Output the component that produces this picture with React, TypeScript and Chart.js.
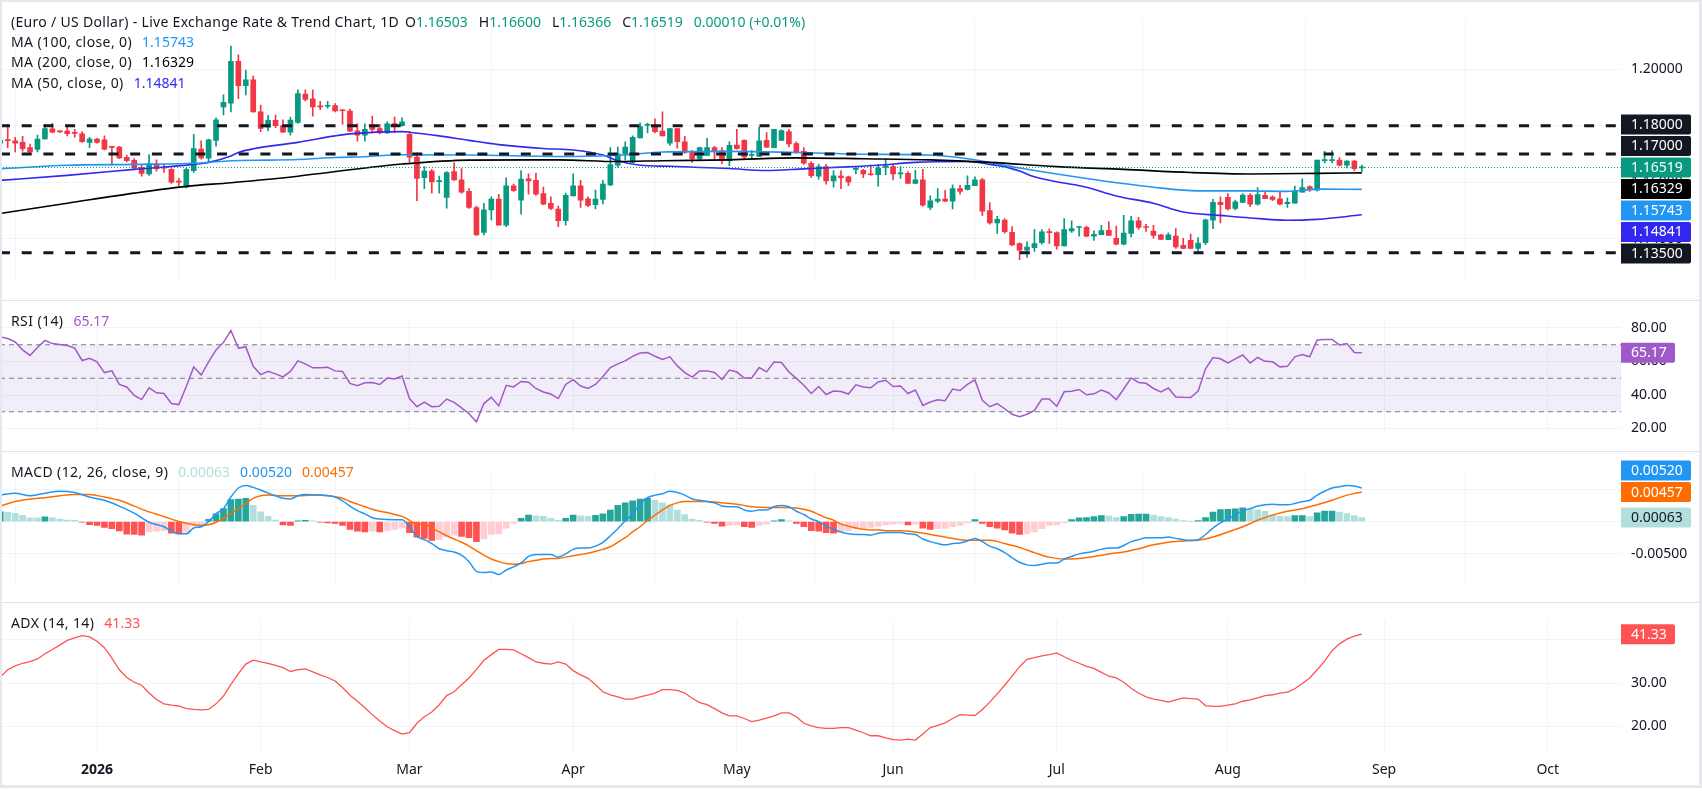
import React, { useEffect, useRef } from 'react';
import { Chart, registerables } from 'chart.js';
Chart.register(...registerables);

// ---------------- data (bar index 0 = 1 Jan 2026, daily bars) ----------------
const FIRST_BAR = -13;
const monthTicks = [0, 22, 42, 64, 86, 107, 129, 152, 173, 195];
const monthLabels = ['2026', 'Feb', 'Mar', 'Apr', 'May', 'Jun', 'Jul', 'Aug', 'Sep', 'Oct'];

const opens = [
  1.1738,1.1751,1.1746,1.1741,1.1722,1.1716,1.1753,1.1789,1.1780,1.1781,1.1776,1.1771,1.1741,
  1.1753,1.1750,1.1725,1.1724,1.1688,1.1677,1.1652,1.1629,1.1664,1.1651,
  1.1645,1.1602,1.1582,1.1641,1.1717,1.1685,1.1748,1.1867,1.1880,1.2028,
  1.1942,1.1963,1.1849,1.1795,1.1819,1.1800,1.1777,1.1812,1.1912,1.1895,
  1.1869,1.1869,1.1871,1.1855,1.1852,1.1782,1.1766,1.1798,1.1790,1.1774,
  1.1806,1.1800,1.1769,1.1689,1.1616,1.1639,1.1602,1.1546,1.1637,1.1608,
  1.1567,1.1510,1.1422,1.1501,1.1540,1.1447,1.1587,1.1536,1.1612,1.1606,
  1.1559,1.1525,1.1504,1.1463,1.1551,1.1587,1.1541,1.1520,1.1539,1.1590,
  1.1660,1.1700,1.1670,1.1757,1.1801,1.1799,1.1781,1.1738,1.1790,1.1743,
  1.1707,1.1683,1.1695,1.1722,1.1712,1.1676,1.1731,1.1748,1.1695,1.1691,
  1.1748,1.1722,1.1748,1.1779,1.1737,1.1709,1.1667,1.1621,1.1655,1.1604,
  1.1621,1.1619,1.1645,1.1642,1.1628,1.1626,1.1652,1.1655,1.1629,1.1631,
  1.1595,1.1608,1.1510,1.1532,1.1540,1.1532,1.1577,1.1574,1.1587,1.1608,
  1.1499,1.1455,1.1465,1.1422,1.1382,1.1359,1.1368,1.1385,1.1423,1.1421,
  1.1374,1.1427,1.1439,1.1440,1.1408,1.1414,1.1429,1.1401,1.1380,1.1418,
  1.1463,1.1441,1.1426,1.1413,1.1396,1.1409,1.1376,1.1394,1.1365,1.1385,
  1.1465,1.1528,1.1546,1.1507,1.1528,1.1553,1.1522,1.1553,1.1547,1.1541,
  1.1524,1.1525,1.1564,1.1584,1.1571,1.1676,1.1676,1.1678,1.1660,1.1675,
  1.16503,
];
const highs = [
  1.1753,1.1805,1.1759,1.1762,1.1735,1.1767,1.1805,1.1808,1.1782,1.1800,1.1787,1.1779,1.1759,
  1.1755,1.1764,1.1727,1.1727,1.1696,1.1683,1.1660,1.1698,1.1679,1.1663,
  1.1648,1.1613,1.1650,1.1769,1.1746,1.1753,1.1828,1.1909,1.2082,1.2051,
  1.1997,1.1976,1.1873,1.1837,1.1838,1.1821,1.1831,1.1927,1.1927,1.1927,
  1.1886,1.1886,1.1878,1.1857,1.1859,1.1807,1.1807,1.1834,1.1805,1.1814,
  1.1831,1.1828,1.1779,1.1704,1.1655,1.1645,1.1621,1.1637,1.1668,1.1648,
  1.1577,1.1515,1.1525,1.1548,1.1557,1.1615,1.1593,1.1641,1.1629,1.1632,
  1.1582,1.1548,1.1515,1.1561,1.1629,1.1606,1.1548,1.1572,1.1606,1.1722,
  1.1724,1.1743,1.1764,1.1810,1.1809,1.1824,1.1849,1.1792,1.1790,1.1762,
  1.1712,1.1724,1.1755,1.1727,1.1722,1.1743,1.1787,1.1750,1.1712,1.1795,
  1.1776,1.1787,1.1785,1.1787,1.1743,1.1722,1.1673,1.1663,1.1663,1.1641,
  1.1641,1.1621,1.1653,1.1645,1.1660,1.1663,1.1683,1.1662,1.1655,1.1637,
  1.1642,1.1645,1.1551,1.1577,1.1571,1.1590,1.1589,1.1622,1.1619,1.1613,
  1.1527,1.1479,1.1471,1.1442,1.1385,1.1388,1.1432,1.1432,1.1434,1.1424,
  1.1471,1.1463,1.1442,1.1444,1.1427,1.1447,1.1460,1.1444,1.1482,1.1479,
  1.1475,1.1450,1.1447,1.1415,1.1420,1.1435,1.1401,1.1416,1.1403,1.1469,
  1.1539,1.1548,1.1559,1.1536,1.1559,1.1559,1.1581,1.1567,1.1551,1.1567,
  1.1544,1.1586,1.1612,1.1587,1.1678,1.1709,1.1712,1.1687,1.1676,1.1677,
  1.16600,
];
const lows = [
  1.1735,1.1722,1.1707,1.1710,1.1702,1.1707,1.1752,1.1774,1.1776,1.1764,1.1759,1.1741,1.1722,
  1.1738,1.1714,1.1660,1.1683,1.1672,1.1645,1.1621,1.1624,1.1639,1.1634,
  1.1595,1.1587,1.1579,1.1634,1.1681,1.1670,1.1727,1.1838,1.1849,1.1896,
  1.1909,1.1848,1.1779,1.1782,1.1793,1.1776,1.1766,1.1808,1.1888,1.1834,
  1.1857,1.1862,1.1849,1.1805,1.1779,1.1745,1.1745,1.1774,1.1771,1.1773,
  1.1776,1.1798,1.1672,1.1534,1.1577,1.1561,1.1561,1.1508,1.1606,1.1561,
  1.1507,1.1411,1.1413,1.1466,1.1447,1.1442,1.1567,1.1486,1.1557,1.1553,
  1.1520,1.1502,1.1442,1.1447,1.1551,1.1510,1.1513,1.1505,1.1523,1.1587,
  1.1653,1.1679,1.1667,1.1757,1.1774,1.1774,1.1764,1.1730,1.1720,1.1702,
  1.1670,1.1676,1.1694,1.1681,1.1665,1.1658,1.1717,1.1683,1.1681,1.1691,
  1.1722,1.1722,1.1747,1.1725,1.1702,1.1663,1.1616,1.1610,1.1593,1.1582,
  1.1577,1.1587,1.1629,1.1616,1.1624,1.1586,1.1626,1.1608,1.1613,1.1595,
  1.1595,1.1515,1.1502,1.1527,1.1531,1.1505,1.1557,1.1572,1.1587,1.1481,
  1.1451,1.1418,1.1419,1.1375,1.1325,1.1333,1.1354,1.1380,1.1383,1.1362,
  1.1374,1.1422,1.1408,1.1406,1.1393,1.1414,1.1411,1.1377,1.1377,1.1406,
  1.1432,1.1425,1.1401,1.1396,1.1396,1.1365,1.1364,1.1364,1.1349,1.1378,
  1.1435,1.1455,1.1501,1.1501,1.1527,1.1513,1.1518,1.1541,1.1534,1.1519,
  1.1510,1.1525,1.1564,1.1567,1.1569,1.1668,1.1668,1.1657,1.1650,1.1641,
  1.16366,
];
const closes = [
  1.1748,1.1747,1.1738,1.1719,1.1707,1.1753,1.1790,1.1777,1.1778,1.1772,1.1773,1.1743,1.1753,
  1.1741,1.1717,1.1723,1.1686,1.1676,1.1650,1.1631,1.1665,1.1648,1.1649,
  1.1600,1.1600,1.1645,1.1719,1.1686,1.1750,1.1821,1.1883,1.2028,1.1942,
  1.1963,1.1849,1.1790,1.1819,1.1800,1.1777,1.1820,1.1914,1.1893,1.1867,
  1.1867,1.1871,1.1852,1.1853,1.1781,1.1766,1.1787,1.1787,1.1774,1.1807,
  1.1804,1.1814,1.1688,1.1613,1.1639,1.1601,1.1604,1.1634,1.1608,1.1564,
  1.1510,1.1413,1.1502,1.1540,1.1447,1.1587,1.1570,1.1611,1.1604,1.1557,
  1.1522,1.1507,1.1463,1.1553,1.1587,1.1536,1.1517,1.1540,1.1593,1.1662,
  1.1700,1.1724,1.1759,1.1797,1.1803,1.1779,1.1764,1.1790,1.1743,1.1705,
  1.1683,1.1722,1.1722,1.1710,1.1676,1.1730,1.1719,1.1689,1.1697,1.1746,
  1.1724,1.1787,1.1783,1.1735,1.1707,1.1667,1.1623,1.1655,1.1604,1.1622,
  1.1616,1.1601,1.1647,1.1629,1.1626,1.1650,1.1658,1.1629,1.1631,1.1595,
  1.1608,1.1518,1.1534,1.1540,1.1532,1.1577,1.1567,1.1589,1.1608,1.1497,
  1.1455,1.1468,1.1424,1.1377,1.1359,1.1370,1.1382,1.1424,1.1421,1.1374,
  1.1432,1.1435,1.1441,1.1408,1.1415,1.1428,1.1411,1.1380,1.1419,1.1463,
  1.1439,1.1439,1.1411,1.1397,1.1413,1.1370,1.1365,1.1365,1.1384,1.1466,
  1.1528,1.1520,1.1505,1.1530,1.1554,1.1522,1.1556,1.1541,1.1539,1.1522,
  1.1528,1.1569,1.1581,1.1572,1.1678,1.1678,1.1678,1.1660,1.1675,1.1648,
  1.16519,
];

const ma50X = [-13,-4,5,13,15,18,19,21,27,32,34,41,42,46,50,54,60,64,68,70,73,77,81,85,90,95,100,105,110,117,120,122,124,126,129,133,137,142,146,151,155,160,164,170];
const ma50Y = [1.1606,1.1624,1.1645,1.1663,1.1670,1.1693,1.1705,1.1718,1.1741,1.1764,1.1771,1.1779,1.1777,1.1764,1.1748,1.1733,1.1719,1.1714,1.1696,1.1676,1.1660,1.1656,1.1652,1.1648,1.1641,1.1647,1.1653,1.1660,1.1670,1.1673,1.1663,1.1655,1.1639,1.1619,1.1601,1.1582,1.1551,1.1525,1.1494,1.1482,1.1473,1.1465,1.1468,1.14841];
const ma100X = [-13,-4,5,14,18,23,27,32,36,41,50,64,71,76,85,94,103,112,117,124,133,142,148,155,160,164,170];
const ma100Y = [1.1647,1.1660,1.1663,1.1668,1.1676,1.1678,1.1680,1.1687,1.1690,1.1697,1.1696,1.1691,1.1696,1.1707,1.1709,1.1705,1.1699,1.1696,1.1683,1.1650,1.1613,1.1582,1.1569,1.1569,1.1567,1.1575,1.15743];
const ma200X = [-13,-4,5,12,18,27,36,41,50,62,70,76,85,94,103,112,120,129,138,147,155,164,170];
const ma200Y = [1.1489,1.1525,1.1561,1.1585,1.1598,1.1621,1.1650,1.1664,1.1678,1.1679,1.1673,1.1676,1.1679,1.1686,1.1683,1.1679,1.1670,1.1655,1.1645,1.1634,1.1629,1.1631,1.16329];

const priceLevels = [1.18, 1.17, 1.135];

const rsi = [
  74.7,73.7,71.7,66.9,63.6,68.4,72.6,70.7,70.2,69.5,68.0,60.6,61.9,
  59.8,53.4,54.4,46.3,44.8,39.8,37.3,44.3,41.3,40.9,
  34.9,34.3,45.1,56.8,51.9,59.8,66.9,71.4,78.5,68.0,
  68.7,57.1,52.2,54.1,52.6,50.8,54.1,60.4,58.6,56.2,
  56.2,56.5,54.4,54.1,46.9,45.5,47.3,47.5,46.3,50.1,
  49.6,51.4,37.9,33.0,35.8,33.0,33.3,37.6,35.6,32.3,
  28.8,24.0,34.9,38.6,33.5,45.8,44.8,48.1,47.6,43.9,
  41.8,40.6,37.9,46.3,49.2,45.4,43.9,46.3,51.1,56.4,
  58.6,60.4,63.1,65.1,65.3,63.1,61.2,62.8,57.4,53.4,
  50.7,54.4,54.4,53.4,49.3,54.9,53.7,50.1,50.2,56.4,
  53.8,59.7,59.4,53.7,49.9,45.8,40.9,45.1,40.3,42.4,
  42.1,40.6,46.1,44.8,44.3,47.8,48.8,45.1,45.4,40.9,
  43.0,33.8,35.8,37.2,36.6,43.6,42.7,46.3,49.0,36.8,
  33.0,34.9,31.8,28.5,27.0,28.5,30.8,37.6,37.6,33.3,
  41.9,42.2,43.3,40.1,40.7,43.0,41.2,37.3,43.6,50.2,
  47.5,47.0,43.9,41.8,44.2,38.8,38.6,38.5,42.4,55.6,
  62.4,61.6,59.1,61.6,63.9,59.1,62.4,60.1,59.8,56.8,
  57.1,62.8,64.2,62.8,72.9,73.2,73.2,69.9,70.7,65.4,
  65.17,
];
const rsiLevels = [70, 50, 30];

const macdHist = [
  0.00153,0.00145,0.00129,0.00096,0.0006,0.00058,0.00072,0.0006,0.0004,0.00024,0.0002,-0.0001,-0.00048,
  -0.0006,-0.00092,-0.00109,-0.00145,-0.00193,-0.002,-0.0021,-0.0016,-0.0015,-0.0014,
  -0.0018,-0.0019,-0.0016,-0.0007,-0.0006,0.00036,0.0012,0.002,0.0034,0.0035,
  0.0036,0.0025,0.0015,0.0008,0.00024,-0.0005,-0.0006,0.0001,0.0002,0.00012,
  -0.0001,-0.0002,-0.0003,-0.0006,-0.0012,-0.0015,-0.0016,-0.0015,-0.0016,-0.0014,
  -0.0012,-0.001,-0.0017,-0.0024,-0.0026,-0.0029,-0.0028,-0.0023,-0.0021,-0.0023,
  -0.0025,-0.0031,-0.0027,-0.002,-0.0019,-0.001,-0.0003,0.0005,0.001,0.0009,
  0.0008,0.0005,0.0002,0.0005,0.001,0.0009,0.0008,0.00095,0.0012,0.0018,
  0.0025,0.0029,0.0032,0.0035,0.0036,0.0033,0.0029,0.0026,0.0018,0.0011,
  0.0004,0.0002,-0.0001,-0.0003,-0.0007,-0.0006,-0.0005,-0.0008,-0.0009,-0.0006,
  -0.0004,0.0001,0.0003,0.0001,-0.0003,-0.0008,-0.0014,-0.0015,-0.0017,-0.0018,
  -0.0017,-0.0014,-0.0011,-0.001,-0.0009,-0.0007,-0.0005,-0.0004,-0.0003,-0.0005,
  -0.0004,-0.001,-0.0012,-0.0011,-0.001,-0.0008,-0.0006,-0.0002,0.0003,-0.0003,
  -0.0008,-0.001,-0.0013,-0.0018,-0.002,-0.0019,-0.0016,-0.0011,-0.0006,-0.0005,
  -0.0002,0.0003,0.00058,0.00062,0.00076,0.00092,0.0009,0.00064,0.00076,0.00114,
  0.00116,0.00118,0.001,0.00076,0.00064,0.0004,0.00016,0.00004,0.00016,0.00064,
  0.00149,0.00185,0.00188,0.00197,0.00213,0.00185,0.00183,0.00157,0.00105,0.0008,
  0.00079,0.00092,0.00093,0.00076,0.00137,0.00161,0.00162,0.00149,0.00125,0.00092,
  0.00063,
];

// MACD line: sampled bars up to 43, then every bar from 44
const macdEarlyX = [-13,-11,-9,-7,-5,-3,-1,1,3,5,7,9,11,12,13,14,15,16,17,18,19,20,21,22,23,24,25,26,27,28,30,32,33,34,35,36,37,38,40,41,42,43];
const macdEarlyY = [0.0041,0.0044,0.0040,0.0044,0.0047,0.0045,0.0038,0.0033,0.0024,0.0013,-0.0001,-0.0008,-0.0019,-0.0019,-0.0010,-0.0008,0.0000,0.0012,0.0020,0.0038,0.0052,0.0056,0.0053,0.0049,0.0044,0.0040,0.0036,0.0035,0.0040,0.0042,0.0041,0.0038,0.0032,0.0024,0.0017,0.0012,0.0006,0.0004,0.0003,0.0003,-0.0008,-0.0023];
const macdFrom44 = [
  -0.0028,-0.0034,-0.0042,-0.0045,-0.0047,-0.0052,-0.0062,-0.0077,-0.0079,-0.0078,
  -0.0082,-0.0075,-0.0070,-0.0064,-0.0054,-0.0051,-0.0051,-0.0051,-0.0055,-0.0050,
  -0.0043,-0.0041,-0.0041,-0.0038,-0.0032,-0.0022,-0.0011,0.0001,0.0012,0.0027,
  0.0037,0.0041,0.0043,0.0047,0.0045,0.0041,0.0035,0.0033,0.0031,0.0029,
  0.0024,0.0023,0.0023,0.0018,0.0016,0.0018,0.0018,0.0023,0.0025,0.0023,
  0.0016,0.0011,0.0004,0.0000,-0.0007,-0.0012,-0.0016,-0.0019,-0.0020,-0.0020,
  -0.0021,-0.0018,-0.0017,-0.0017,
  -0.0017,-0.0019,-0.0020,-0.0027,-0.0031,-0.0034,-0.0036,-0.0034,-0.0033,-0.0030,
  -0.0026,-0.0031,-0.0038,-0.0042,-0.0048,-0.0056,-0.0063,-0.0067,-0.0068,-0.0066,
  -0.0064,-0.0064,-0.0058,-0.0054,-0.0050,-0.0048,-0.0046,-0.0043,-0.0041,-0.0041,
  -0.0037,-0.0031,-0.0028,-0.0025,-0.0025,-0.0025,-0.0024,-0.0026,-0.0028,-0.0029,
  -0.0028,-0.0020,-0.0010,-0.0002,0.0004,0.0010,0.0017,0.0020,0.0024,0.0026,
  0.0027,0.0026,0.0026,0.0028,0.0031,0.0033,0.0041,0.0047,0.0052,0.0054,
  0.0056,0.0055,0.0052,
];
const signalX = [
  -13,-11,-9,-7,-5,-3,-1,1,3,5,7,9,11,13,14,15,16,17,18,19,20,21,22,23,25,27,29,31,33,34,35,36,37,38,39,40,41,42,43,
  44,45,46,47,48,49,50,51,52,53,54,55,56,57,58,59,60,61,62,63,64,65,66,67,68,69,70,71,72,73,74,75,76,77,78,79,80,
  82,84,86,88,90,92,94,
  95,96,97,98,99,100,101,102,103,104,105,106,107,
  108,110,112,114,116,118,120,122,124,126,128,130,132,134,136,138,140,142,144,146,148,150,152,154,156,158,160,162,164,166,168,170,
];
const signalY = [
  0.0024,0.0031,0.0035,0.0037,0.0040,0.0042,0.0042,0.0038,0.0033,0.0024,0.0015,0.0008,0.0000,
  -0.0005,-0.0006,-0.0005,-0.0001,0.0005,0.0013,0.0020,0.0028,0.0036,0.0040,0.0041,
  0.0040,0.0040,0.0041,0.0040,0.0036,
  0.0031,0.0027,0.0023,0.0019,0.0016,0.0014,0.0011,0.0008,0.0002,-0.0004,
  -0.0004,-0.0010,-0.0016,-0.0022,-0.0027,-0.0032,-0.0038,-0.0045,-0.0052,-0.0058,
  -0.0062,-0.0065,-0.0066,-0.0065,-0.0062,-0.0060,-0.0058,-0.0057,-0.0057,-0.0055,
  -0.0053,-0.0051,-0.0049,-0.0046,-0.0043,-0.0039,-0.0032,-0.0025,-0.0016,-0.0008,
  0.0002,0.0010,0.0018,0.0025,0.0029,0.0031,0.0031,
  0.0031,0.0029,0.0027,0.0023,0.0022,0.0022,0.0021,
  0.0019,0.0016,0.0011,0.0006,0.0002,-0.0004,-0.0007,-0.0010,-0.0012,-0.0013,-0.0013,-0.0014,-0.0014,
  -0.0014,-0.0016,-0.0020,-0.0024,-0.0028,-0.0029,-0.0029,-0.0034,-0.0040,-0.0048,-0.0055,-0.0058,-0.0057,-0.0054,-0.0050,-0.0047,
  -0.0042,-0.0036,-0.0032,-0.0030,-0.0029,-0.0024,-0.0016,-0.0008,0.0002,0.0010,0.0016,0.0020,0.0026,0.0033,0.0041,0.00457,
];

const adx = [
  31.4,33.1,34.0,34.6,35.0,35.6,36.8,37.8,38.8,39.9,40.5,41.0,40.7,
  39.7,38.2,35.8,33.1,31.3,30.2,29.5,27.7,26.2,25.2,
  24.9,24.7,24.1,23.9,23.8,23.9,25.2,27.0,29.7,32.2,
  34.4,35.3,34.9,34.6,34.1,33.6,32.7,33.1,33.3,32.6,
  31.9,31.3,30.5,29.0,27.2,25.8,24.3,22.7,21.2,19.9,
  19.0,18.2,18.5,20.7,22.2,23.3,25.0,27.1,28.0,29.6,
  31.2,33.2,35.3,36.6,37.8,37.8,37.7,36.8,35.9,34.9,
  34.6,34.4,34.9,34.4,32.9,31.9,31.1,29.6,28.0,27.3,
  26.8,26.3,26.3,26.8,27.2,27.7,28.5,28.5,28.3,27.7,
  26.5,25.5,25.0,24.1,23.1,22.4,22.4,21.8,21.1,21.4,
  21.9,22.4,23.1,23.1,22.2,20.7,20.1,19.7,19.5,19.5,
  19.7,19.7,19.1,18.5,17.8,17.8,17.3,16.9,16.8,17.0,
  16.8,18.2,19.7,20.2,20.8,21.8,22.7,22.6,22.5,23.9,
  25.6,27.5,29.5,31.6,33.8,35.5,35.9,36.3,36.6,37.0,
  36.1,35.3,34.6,33.9,33.4,32.5,31.6,31.2,30.2,28.8,
  27.7,26.8,26.3,26.0,25.6,26.1,26.6,26.4,26.3,24.8,
  24.6,24.6,24.9,25.2,25.8,26.1,26.6,27.1,27.3,27.7,
  27.9,28.7,29.9,31.2,33.1,35.1,37.5,39.1,40.2,40.9,
  41.33,
];

const headerTitle = '(Euro / US Dollar) - Live Exchange Rate & Trend Chart, 1D';
const headerChange = '0.00010 (+0.01%)';

// ---------------- styling ----------------
const FONT = "'Noto Sans', sans-serif";
const TEXT = '#131722';
const GRID = '#f0f3fa';
const UP = '#089981';
const DOWN = '#f23645';
const MA50_C = '#3328f0';
const MA100_C = '#2196f3';
const MA200_C = '#000000';
const RSI_C = '#a05ac8';
const MACD_C = '#2196f3';
const SIG_C = '#ff6d00';
const ADX_C = '#ff5252';
const W = 1702;
const AXIS_W = 81;
const X_MIN = -13.038;
const X_MAX = 204.84;
const BADGE_H = 20;
const BADGE_STEP = 21.5;

const last = (a: number[]) => a[a.length - 1];
const zip = (xs: number[], ys: number[]) => xs.slice(0, Math.min(xs.length, ys.length)).map((x, k) => ({ x, y: ys[k] }));
const barX = (n: number) => Array.from({ length: n }, (_, k) => FIRST_BAR + k);

function xScale(showLabels: boolean) {
  return {
    type: 'linear', min: X_MIN, max: X_MAX, offset: false,
    afterBuildTicks: (s: any) => { s.ticks = monthTicks.map((v) => ({ value: v })); },
    afterFit: (s: any) => { s.height = showLabels ? 35 : 0; },
    grid: { color: GRID, drawTicks: false, lineWidth: 1 },
    border: { display: false },
    ticks: {
      display: showLabels, autoSkip: false, maxRotation: 0, minRotation: 0, padding: 10, color: TEXT,
      font: (c: any) => ({ family: FONT, size: 14, weight: c.index === 0 ? 'bold' : 'normal' }),
      callback: (_v: any, i: number) => monthLabels[i],
    },
  };
}

function yScale(min: number, max: number, ticks: number[], digits: number) {
  return {
    position: 'right', min, max,
    afterFit: (s: any) => { s.width = AXIS_W; },
    afterBuildTicks: (s: any) => { s.ticks = ticks.map((v) => ({ value: v })); },
    grid: { color: GRID, drawTicks: false },
    border: { display: false },
    ticks: {
      autoSkip: false, padding: 10, color: TEXT, font: { family: FONT, size: 14 },
      callback: (v: any) => Number(v).toFixed(digits),
    },
  };
}

type Badge = { value: number; text: string; bg: string; fg: string; w: number; anchor?: boolean };

function badgePlugin(items: Badge[]) {
  return {
    id: 'badges',
    afterDraw(chart: any) {
      const { ctx, chartArea } = chart;
      const ys = chart.scales.y;
      const list = items.map((b) => ({ ...b, py: ys.getPixelForValue(b.value) })).sort((a, b) => a.py - b.py);
      let ai = list.findIndex((b) => b.anchor);
      if (ai < 0) ai = list.length - 1;
      for (let k = ai - 1; k >= 0; k--) list[k].py = Math.min(list[k].py, list[k + 1].py - BADGE_STEP);
      for (let k = ai + 1; k < list.length; k++) list[k].py = Math.max(list[k].py, list[k - 1].py + BADGE_STEP);
      ctx.save();
      ctx.font = `14px ${FONT}`;
      ctx.textBaseline = 'middle';
      ctx.textAlign = 'left';
      for (const b of list) {
        ctx.fillStyle = b.bg;
        ctx.beginPath();
        ctx.roundRect(chartArea.right, b.py - BADGE_H / 2, b.w, BADGE_H, [0, 2, 2, 0]);
        ctx.fill();
        ctx.fillStyle = b.fg;
        ctx.fillText(b.text, chartArea.right + 10, b.py + 0.5);
      }
      ctx.restore();
    },
  };
}

const baseOptions = (x: any, y: any) => ({
  responsive: false,
  animation: false,
  events: [],
  layout: { padding: 0, autoPadding: false },
  plugins: { legend: { display: false }, tooltip: { enabled: false }, title: { display: false } },
  scales: { x, y },
});

const hline = (v: number, color: string, width: number, dash: number[], order: number, extra: any = {}) => ({
  type: 'line',
  data: [{ x: X_MIN, y: v }, { x: X_MAX, y: v }],
  borderColor: color, borderWidth: width, borderDash: dash, pointRadius: 0, order, ...extra,
});

const smoothLine = (data: any[], color: string, width: number, order: number) => ({
  type: 'line', data, borderColor: color, borderWidth: width, pointRadius: 0,
  cubicInterpolationMode: 'monotone', order,
});

function mainConfig() {
  const xs = barX(closes.length);
  const cols = closes.map((c, k) => (c >= opens[k] ? UP : DOWN));
  const datasets: any[] = [
    ...priceLevels.map((lv) => hline(lv, TEXT, 3, [10, 11.7], 0)),
    hline(last(closes), UP, 1, [1, 2], 0),
    smoothLine(zip(ma200X, ma200Y), MA200_C, 1.6, 1),
    smoothLine(zip(ma100X, ma100Y), MA100_C, 1.6, 1),
    smoothLine(zip(ma50X, ma50Y), MA50_C, 1.6, 1),
    {
      type: 'bar', data: xs.map((x, k) => ({ x, y: [opens[k], closes[k]] })),
      backgroundColor: cols, barThickness: 5, grouped: false, minBarLength: 1, borderWidth: 0, order: 2,
    },
    {
      type: 'bar', data: xs.map((x, k) => ({ x, y: [lows[k], highs[k]] })),
      backgroundColor: cols, barThickness: 1, grouped: false, borderWidth: 0, order: 3,
    },
  ];
  const badges: Badge[] = [
    ...priceLevels.map((lv) => ({ value: lv, text: lv.toFixed(5), bg: TEXT, fg: '#ffffff', w: 70 })),
    { value: last(closes), text: last(closes).toFixed(5), bg: UP, fg: '#ffffff', w: 70, anchor: true },
    { value: last(ma200Y), text: last(ma200Y).toFixed(5), bg: MA200_C, fg: '#ffffff', w: 70 },
    { value: last(ma100Y), text: last(ma100Y).toFixed(5), bg: MA100_C, fg: '#ffffff', w: 70 },
    { value: last(ma50Y), text: last(ma50Y).toFixed(5), bg: MA50_C, fg: '#ffffff', w: 70 },
  ];
  return {
    type: 'bar',
    data: { datasets },
    options: baseOptions(xScale(false), yScale(1.12473, 1.21804, [1.14, 1.16, 1.18, 1.2], 5)),
    plugins: [badgePlugin(badges)],
  };
}

function rsiConfig() {
  const xs = barX(rsi.length);
  const datasets: any[] = [
    { type: 'line', data: xs.map((x, k) => ({ x, y: rsi[k] })), borderColor: RSI_C, borderWidth: 1.5, pointRadius: 0, tension: 0, order: 0 },
    hline(rsiLevels[0], '#787b86', 1, [5, 4], 1, { fill: { value: rsiLevels[2] }, backgroundColor: 'rgba(126,87,194,0.1)' }),
    hline(rsiLevels[1], '#787b86', 1, [5, 4], 1),
    hline(rsiLevels[2], '#787b86', 1, [5, 4], 1),
  ];
  return {
    type: 'line',
    data: { datasets },
    options: baseOptions(xScale(false), yScale(17.56, 85.73, [20, 40, 60, 80], 2)),
    plugins: [badgePlugin([{ value: last(rsi), text: last(rsi).toFixed(2), bg: RSI_C, fg: '#ffffff', w: 54 }])],
  };
}

function macdConfig() {
  const xs = barX(macdHist.length);
  const histCols = macdHist.map((h, k) => {
    const prev = k === 0 ? -Infinity : macdHist[k - 1];
    if (h >= 0) return h > prev ? '#26a69a' : '#b2dfdb';
    return h > prev ? '#ffcdd2' : '#ff5252';
  });
  const macdPts = [...zip(macdEarlyX, macdEarlyY), ...macdFrom44.map((y, k) => ({ x: 44 + k, y }))];
  const datasets: any[] = [
    { type: 'line', data: macdPts, borderColor: MACD_C, borderWidth: 1.5, pointRadius: 0, cubicInterpolationMode: 'monotone', order: 0 },
    smoothLine(zip(signalX, signalY), SIG_C, 1.5, 1),
    { type: 'bar', data: xs.map((x, k) => ({ x, y: macdHist[k] })), backgroundColor: histCols, barThickness: 6, grouped: false, borderWidth: 0, order: 2 },
  ];
  const badges: Badge[] = [
    { value: last(macdFrom44), text: last(macdFrom44).toFixed(5), bg: MACD_C, fg: '#ffffff', w: 70 },
    { value: last(signalY), text: last(signalY).toFixed(5), bg: SIG_C, fg: '#ffffff', w: 70, anchor: true },
    { value: last(macdHist), text: last(macdHist).toFixed(5), bg: '#b2dfdb', fg: TEXT, w: 70 },
  ];
  return {
    type: 'bar',
    data: { datasets },
    options: baseOptions(xScale(false), yScale(-0.0096, 0.00808, [-0.005, 0, 0.005], 5)),
    plugins: [badgePlugin(badges)],
  };
}

function adxConfig() {
  const xs = barX(adx.length);
  const datasets: any[] = [
    { type: 'line', data: xs.map((x, k) => ({ x, y: adx[k] })), borderColor: ADX_C, borderWidth: 1.3, pointRadius: 0, tension: 0, order: 0 },
  ];
  return {
    type: 'line',
    data: { datasets },
    options: baseOptions(xScale(true), yScale(14.04, 44.53, [20, 30, 40], 2)),
    plugins: [badgePlugin([{ value: last(adx), text: last(adx).toFixed(2), bg: ADX_C, fg: '#ffffff', w: 54 }])],
  };
}

const row = (top: number): React.CSSProperties => ({
  position: 'absolute', left: 11, top, fontFamily: FONT, fontSize: 14, lineHeight: '20px',
  whiteSpace: 'nowrap', color: TEXT, pointerEvents: 'none',
});
const lbl = (spacing: number): React.CSSProperties => ({ letterSpacing: spacing });

export default function App() {
  const mainRef = useRef<HTMLCanvasElement>(null);
  const rsiRef = useRef<HTMLCanvasElement>(null);
  const macdRef = useRef<HTMLCanvasElement>(null);
  const adxRef = useRef<HTMLCanvasElement>(null);

  useEffect(() => {
    document.body.style.margin = '0';
    const charts: any[] = [];
    charts.push(new Chart(mainRef.current as any, mainConfig() as any));
    charts.push(new Chart(rsiRef.current as any, rsiConfig() as any));
    charts.push(new Chart(macdRef.current as any, macdConfig() as any));
    charts.push(new Chart(adxRef.current as any, adxConfig() as any));
    return () => charts.forEach((c) => c.destroy());
  }, []);

  const cv = (top: number, h: number): React.CSSProperties => ({ position: 'absolute', left: 0, top, width: W, height: h });
  const sep = (top: number): React.CSSProperties => ({ position: 'absolute', left: 0, top, width: W, height: 1, background: '#e0e3eb' });
  const ohlc: [string, number][] = [['O', last(opens)], ['H', last(highs)], ['L', last(lows)], ['C', last(closes)]];
  const valColor = last(closes) >= last(opens) ? UP : DOWN;

  return (
    <div style={{ position: 'absolute', left: 0, top: 0, width: W, height: 791, background: '#ffffff', overflow: 'hidden' }}>
      <canvas ref={mainRef} width={W} height={300} style={cv(0, 300)} />
      <canvas ref={rsiRef} width={W} height={151} style={cv(300, 151)} />
      <canvas ref={macdRef} width={W} height={151} style={cv(451, 151)} />
      <canvas ref={adxRef} width={W} height={185} style={cv(602, 185)} />
      <div style={sep(300)} />
      <div style={sep(451)} />
      <div style={sep(602)} />

      <div style={row(11.5)}>
        <span style={lbl(0.3)}>{headerTitle}</span>
        {ohlc.map(([k, v], i) => (
          <span key={k} style={{ marginLeft: i === 0 ? 6 : 11 }}>
            {k}<span style={{ color: valColor }}>{v.toFixed(5)}</span>
          </span>
        ))}
        <span style={{ marginLeft: 11, color: valColor }}>{headerChange}</span>
      </div>
      <div style={row(31.7)}>
        <span style={lbl(0.4)}>MA (100, close, 0)</span>
        <span style={{ marginLeft: 10, color: MA100_C }}>{last(ma100Y).toFixed(5)}</span>
      </div>
      <div style={row(52.3)}>
        <span style={lbl(0.4)}>MA (200, close, 0)</span>
        <span style={{ marginLeft: 10, color: MA200_C }}>{last(ma200Y).toFixed(5)}</span>
      </div>
      <div style={row(73)}>
        <span style={lbl(0.4)}>MA (50, close, 0)</span>
        <span style={{ marginLeft: 10, color: MA50_C }}>{last(ma50Y).toFixed(5)}</span>
      </div>

      <div style={row(310.7)}>
        <span style={lbl(0.4)}>RSI (14)</span>
        <span style={{ marginLeft: 10, color: RSI_C }}>{last(rsi).toFixed(2)}</span>
      </div>
      <div style={row(461.7)}>
        <span style={lbl(0.4)}>MACD (12, 26, close, 9)</span>
        <span style={{ marginLeft: 10, color: '#b2dfdb' }}>{last(macdHist).toFixed(5)}</span>
        <span style={{ marginLeft: 10, color: MACD_C }}>{last(macdFrom44).toFixed(5)}</span>
        <span style={{ marginLeft: 10, color: SIG_C }}>{last(signalY).toFixed(5)}</span>
      </div>
      <div style={row(613.3)}>
        <span style={lbl(0.4)}>ADX (14, 14)</span>
        <span style={{ marginLeft: 10, color: ADX_C }}>{last(adx).toFixed(2)}</span>
      </div>

      <div style={{ position: 'absolute', left: 0, top: 0, width: W, height: 2, background: '#e6e8ee' }} />
      <div style={{ position: 'absolute', left: 0, top: 0, width: 2, height: 788, background: '#e6e8ee' }} />
      <div style={{ position: 'absolute', left: W - 3, top: 0, width: 3, height: 788, background: '#e6e8ee' }} />
      <div style={{ position: 'absolute', left: 0, top: 785, width: W, height: 3, background: '#e6e8ee' }} />
    </div>
  );
}
